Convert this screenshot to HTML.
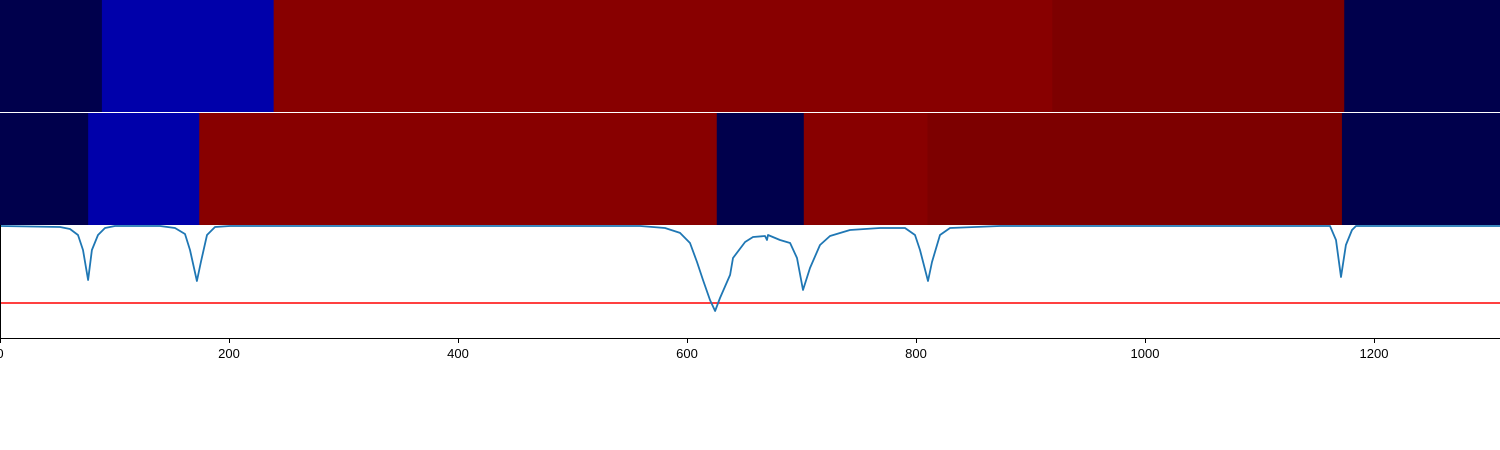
<!DOCTYPE html>
<html><head><meta charset="utf-8"><style>
html,body{margin:0;padding:0;background:#fff;width:1500px;height:450px;overflow:hidden}
svg{display:block;font-family:"Liberation Sans","DejaVu Sans",sans-serif}
</style></head><body>
<svg id="chart" width="1500" height="450" viewBox="0 0 1500 450" xmlns="http://www.w3.org/2000/svg"></svg>
<script>
const row1Edges = [0, 89, 239, 919, 1174, 1310];
const row1Colors = ["#00004c", "#0000aa", "#880000", "#7d0000", "#00004c"];
const row2Edges = [0, 77, 174, 626, 702, 810, 1172, 1310];
const row2Colors = ["#00004c", "#0000aa", "#880000", "#00004c", "#880000", "#7d0000", "#00004c"];
const lineX = [0,52.4,61.1,68.1,72.5,76.9,80.3,85.6,91.7,100.4,139.7,152.8,161.6,165.9,172,175.5,180.8,187.8,200.9,559,580.8,593.9,602.6,608.7,614,620.1,624.5,628.8,637.6,640.2,650.7,657.6,668.1,669.9,670.7,681.2,690,696.1,701.3,707.4,716.2,724.9,742.4,768.6,790.4,799.1,803.5,810.5,814,821,829.7,873.4,1161.6,1166.8,1171.2,1175.5,1180.8,1184.3,1310];
const lineY = [1,0.991,0.973,0.920,0.786,0.518,0.786,0.920,0.982,1,1,0.982,0.929,0.786,0.509,0.679,0.920,0.991,1,1,0.982,0.938,0.848,0.679,0.518,0.339,0.241,0.357,0.563,0.714,0.857,0.902,0.911,0.875,0.920,0.875,0.848,0.714,0.429,0.625,0.830,0.911,0.964,0.982,0.982,0.920,0.786,0.509,0.679,0.920,0.982,1,1,0.875,0.545,0.830,0.964,1,1];
const threshold = 0.313;
const xTicks = [0,200,400,600,800,1000,1200];

const svg = document.getElementById('chart');
const NS = 'http://www.w3.org/2000/svg';
const xS = v => v * 1.145;
const yS = v => 338 - v * 112;
function mk(tag, attrs){const e=document.createElementNS(NS,tag);for(const k in attrs)e.setAttribute(k,attrs[k]);svg.appendChild(e);return e;}

function band(edges, colors, y0, h, nm){
  for(let i=0;i<colors.length;i++){
    const r=mk('rect',{x:xS(edges[i]),y:y0,width:xS(edges[i+1])-xS(edges[i])+0.5,height:h,fill:colors[i]});
    
    
  }
}
band(row1Edges,row1Colors,0,112,'top-band');
band(row2Edges,row2Colors,113,112,'bottom-band');

const thr=mk('line',{x1:0,x2:1500,y1:yS(threshold),y2:yS(threshold),stroke:'#ff0000','stroke-width':1.5});



let d='';
lineX.forEach((x,i)=>{d+=(i?'L':'M')+xS(x).toFixed(1)+','+yS(lineY[i]).toFixed(1);});
const p=mk('path',{d:d,fill:'none',stroke:'#1f77b4','stroke-width':1.8,'stroke-linejoin':'round'});



const ax=mk('line',{x1:0,x2:1500,y1:338.5,y2:338.5,stroke:'#000','stroke-width':1});


const ls=mk('line',{x1:0.5,x2:0.5,y1:225,y2:338,stroke:'#000','stroke-width':1});



xTicks.forEach(t=>{
  const tk=mk('line',{x1:xS(t)+0.5,x2:xS(t)+0.5,y1:338,y2:343,stroke:'#000','stroke-width':1});
  
  
  const tx=mk('text',{x:xS(t),y:358,'text-anchor':'middle','font-size':13,fill:'#000'});
  tx.textContent=t;
  
  
});
</script>
</body></html>
